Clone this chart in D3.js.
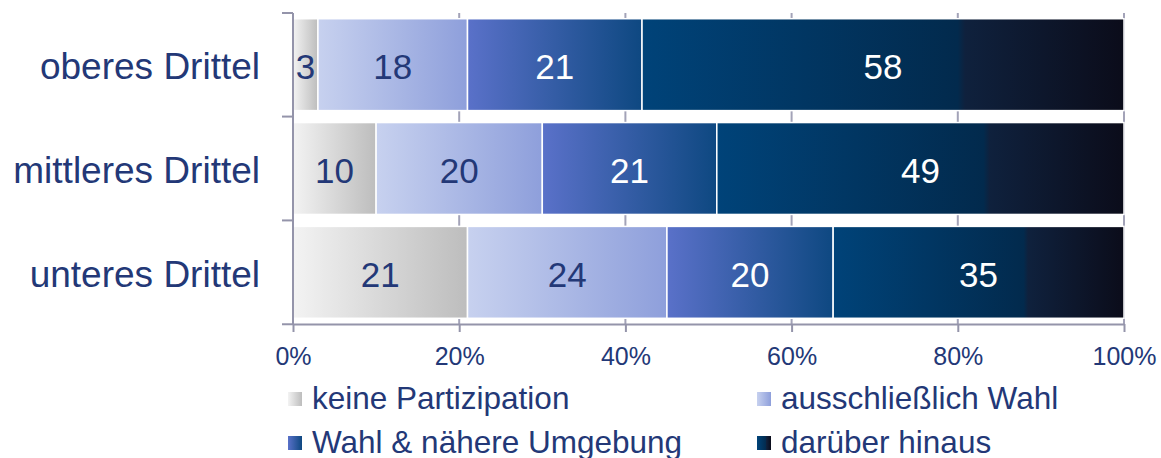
<!DOCTYPE html>
<html>
<head>
<meta charset="utf-8">
<script src="https://cdn.jsdelivr.net/npm/d3@7"></script>
<style>
    body {
        margin: 0;
        background: #fff;
        font-family: "Liberation Sans", Arial, sans-serif;
    }
    .grid line { stroke: #a3a3b8; stroke-width: 2px; }
    .axis line, .axis path { stroke: #9494aa; stroke-width: 2px; }
</style>
</head>
<body>
<script>

// data (percent)
var categories = ["oberes Drittel", "mittleres Drittel", "unteres Drittel"];
var seriesNames = ["keine Partizipation", "ausschließlich Wahl", "Wahl & nähere Umgebung", "darüber hinaus"];
var keinePartizipation = [3, 10, 21];
var nurWahl = [18, 20, 24];
var wahlUmgebung = [21, 21, 20];
var darueberHinaus = [58, 49, 35];
var tickValues = [0, 20, 40, 60, 80, 100];

var width = 1161, height = 458;
var navy = "#233877";

// gradient stops per series
var gradients = [
    [[0, "#f3f3f3"], [1, "#bdbdbd"]],
    [[0, "#c7d1ef"], [1, "#8e9fdb"]],
    [[0, "#5a71c9"], [1, "#0e4881"]],
    [[0, "#004379"], [0.655, "#022a4d"], [0.67, "#0f213d"], [1, "#0b0c1a"]]
];
var labelColors = [navy, navy, "#fff", "#fff"];

var table = categories.map(function(c, i) {
    return {
        cat: c,
        s0: keinePartizipation[i],
        s1: nurWahl[i],
        s2: wahlUmgebung[i],
        s3: darueberHinaus[i]
    };
});
var keys = ["s0", "s1", "s2", "s3"];
var stacked = d3.stack().keys(keys)(table);

var svg = d3.select("body").append("svg")
    .attr("width", width)
    .attr("height", height);

var defs = svg.append("defs");
gradients.forEach(function(stops, i) {
    var g = defs.append("linearGradient")
        .attr("id", "grad" + i)
        .attr("x1", "0%").attr("x2", "100%")
        .attr("y1", "0%").attr("y2", "0%");
    stops.forEach(function(s) {
        g.append("stop").attr("offset", s[0]).attr("stop-color", s[1]);
    });
});

var x = d3.scaleLinear()
    .domain([0, 100])
    .range([293, 1124]);

var y = d3.scaleBand()
    .domain(categories)
    .range([13, 324])
    .paddingInner(0.115)
    .paddingOuter(0.055);

// vertical gridlines (behind bars)
svg.append("g")
    .attr("class", "grid")
    .selectAll("line")
    .data(tickValues.slice(1))
    .enter().append("line")
    .attr("x1", function(d) { return x(d); })
    .attr("x2", function(d) { return x(d); })
    .attr("y1", 13)
    .attr("y2", 324);

// bars
var layer = svg.selectAll("g.layer")
    .data(stacked)
    .enter().append("g")
    .attr("class", "layer");

layer.selectAll("rect")
    .data(function(d) { return d.map(function(p) { p.key = d.key; return p; }); })
    .enter().append("rect")
    .attr("x", function(d) { return x(d[0]); })
    .attr("y", function(d) { return y(d.data.cat); })
    .attr("width", function(d) { return x(d[1]) - x(d[0]); })
    .attr("height", y.bandwidth())
    .style("fill", function(d) { return "url(#grad" + keys.indexOf(d.key) + ")"; })
    .style("stroke", "#fff")
    .style("stroke-width", 1.5);

layer.selectAll("text")
    .data(function(d) { return d; })
    .enter().append("text")
    .attr("x", function(d) { return (x(d[0]) + x(d[1])) / 2; })
    .attr("y", function(d) { return y(d.data.cat) + y.bandwidth() / 2 + 2; })
    .attr("text-anchor", "middle")
    .attr("dominant-baseline", "central")
    .style("font-size", "35px")
    .style("fill", function(d) { return labelColors[keys.indexOf(d.key)]; })
    .text(function(d) { return d[1] - d[0]; });

// x axis
var xAxis = svg.append("g")
    .attr("class", "axis")
    .attr("transform", "translate(0,324)")
    .call(d3.axisBottom(x).tickValues(tickValues).tickSize(8).tickSizeOuter(0)
        .tickFormat(function(d) { return d + "%"; }));
xAxis.selectAll("text")
    .attr("y", 0)
    .attr("dy", "41px")
    .style("font-family", "'Liberation Sans', Arial, sans-serif")
    .style("font-size", "25px")
    .style("fill", navy);

// y axis: ticks at band boundaries
var yAxis = svg.append("g").attr("class", "axis");
yAxis.append("line")
    .attr("x1", x(0)).attr("x2", x(0))
    .attr("y1", 13).attr("y2", 324);
var bounds = [13].concat(categories.map(function(c) { return y(c) + y.bandwidth() + y.step() * y.paddingInner() / 2; }));
yAxis.selectAll("line.tick")
    .data(bounds)
    .enter().append("line")
    .attr("class", "tick")
    .attr("x1", x(0) - 11).attr("x2", x(0))
    .attr("y1", function(d) { return d; })
    .attr("y2", function(d) { return d; });

svg.append("g").selectAll("text")
    .data(categories)
    .enter().append("text")
    .attr("x", 260)
    .attr("y", function(d) { return y(d) + y.bandwidth() / 2 + 2; })
    .attr("text-anchor", "end")
    .attr("dominant-baseline", "central")
    .style("font-size", "37px")
    .style("fill", navy)
    .text(function(d) { return d; });

// legend, 2 x 2
var legendPos = [[288, 392], [757, 392], [288, 436], [757, 436]];
var legend = svg.selectAll("g.legend")
    .data(seriesNames)
    .enter().append("g")
    .attr("class", "legend")
    .attr("transform", function(d, i) { return "translate(" + legendPos[i][0] + "," + legendPos[i][1] + ")"; });

legend.append("rect")
    .attr("width", 14)
    .attr("height", 14)
    .style("fill", function(d, i) { return "url(#grad" + i + ")"; });

legend.append("text")
    .attr("x", 24)
    .attr("y", 17)
    .style("font-size", "31.5px")
    .style("fill", navy)
    .text(function(d) { return d; });

</script>
</body>
</html>
